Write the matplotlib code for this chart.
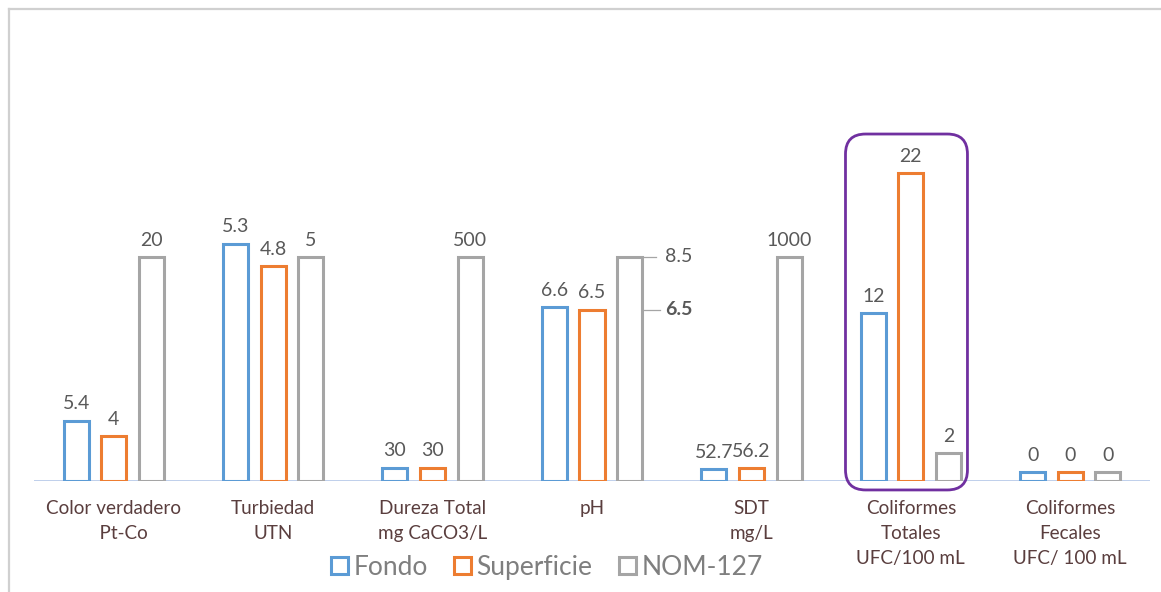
import numpy as np
import matplotlib
matplotlib.use("Agg")
import matplotlib.pyplot as plt
from matplotlib.patches import Patch, FancyBboxPatch
from matplotlib.lines import Line2D

plt.rcParams["font.family"] = ["Lato", "DejaVu Sans"]

# ---- data ----
categorias = ["Color verdadero\n    Pt-Co", "Turbiedad\nUTN", "Dureza Total\nmg CaCO3/L", "pH",
              "SDT\nmg/L", "Coliformes\nTotales\nUFC/100 mL", "Coliformes\nFecales\nUFC/ 100 mL"]
fondo = [5.4, 5.3, 30, 6.6, 52.7, 12, 0]
superficie = [4, 4.8, 30, 6.5, 56.2, 22, 0]
nom127 = [20, 5, 500, 8.5, 1000, 2, 0]
# each group is drawn on its own scale (value that maps to the full reference height)
escala = [20, 5, 500, 8.5, 1000, 16, 1]
ph_min = 6.5
ph_max = 8.5

series = [("Fondo", fondo, "#5B9BD5"),
          ("Superficie", superficie, "#ED7D31"),
          ("NOM-127", nom127, "#A5A5A5")]

W, H = 1161, 592
fig = plt.figure(figsize=(W / 100, H / 100), dpi=100)
ax = fig.add_axes([34 / W, 111 / H, 1116 / W, 441 / H])

x = np.arange(len(categorias))
step, bw, min_h = 0.236, 0.157, 0.04
lw = 2.2
val_color = "#595959"

for k, (name, vals, col) in enumerate(series):
    h = np.maximum(np.array(vals, float) / np.array(escala, float), min_h)
    xs = x + (k - 1) * step
    ax.bar(xs, h, width=bw, facecolor="white", edgecolor=col, linewidth=lw, zorder=3)
    for i, (xi, hi, v) in enumerate(zip(xs, h, vals)):
        if name == "NOM-127" and categorias[i] == "pH":
            continue
        ax.annotate(f"{v:g}", (xi, hi), xytext=(0, 6), textcoords="offset points",
                    ha="center", va="bottom", fontsize=14, color=val_color)

# pH range marks on the NOM-127 bar
ip = categorias.index("pH")
xr = ip + step + bw / 2
for val, wt, ln in [(ph_max, "normal", 0.085), (ph_min, "bold", 0.11)]:
    yv = val / escala[ip]
    ax.plot([xr + 0.01, xr + ln], [yv, yv], color="#A5A5A5", lw=0.9, clip_on=False)
    ax.text(xr + 0.145, yv, f"{val:g}", ha="left", va="center", fontsize=14,
            color=val_color, fontweight=wt)

# highlight box around Coliformes Totales
ic = 5
top = max(fondo[ic], superficie[ic], nom127[ic]) / escala[ic] + 0.174
box = FancyBboxPatch((ic - 0.41, -0.04), 0.765, top + 0.04,
                     boxstyle="round,pad=0,rounding_size=0.126", mutation_aspect=0.71,
                     facecolor="none", edgecolor="#7030A0", lw=2, clip_on=False, zorder=4)
ax.add_patch(box)

ax.axhline(0, color="#B4C7E7", lw=1.2, zorder=2)
ax.set_xlim(-0.5, len(categorias) - 0.5)
ax.set_ylim(0, 441 / 224)
ax.set_yticks([])
ax.set_xticks(x)
ax.set_xticklabels(categorias, fontsize=13.6, color="#5A3E3E", linespacing=1.56)
ax.tick_params(axis="x", length=0, pad=14)
for s in ax.spines.values():
    s.set_visible(False)

handles = [Patch(facecolor="white", edgecolor=c, lw=lw, label=n) for n, _, c in series]
fig.legend(handles=handles, loc="center", bbox_to_anchor=(0.471, 0.042), ncol=3,
           frameon=False, fontsize=19, handlelength=0.65, handleheight=0.65,
           handletextpad=0.2, columnspacing=1.0, labelcolor="#7F7F7F")

# outer chart border (top and left visible)
x0, y0 = 8.5 / W, 1 - 8.5 / H
fig.add_artist(Line2D([x0, x0], [0, y0], color="#D0D0D0", lw=1.6))
fig.add_artist(Line2D([x0, 1], [y0, y0], color="#D0D0D0", lw=1.6))

fig.savefig("out.png", dpi=100)
